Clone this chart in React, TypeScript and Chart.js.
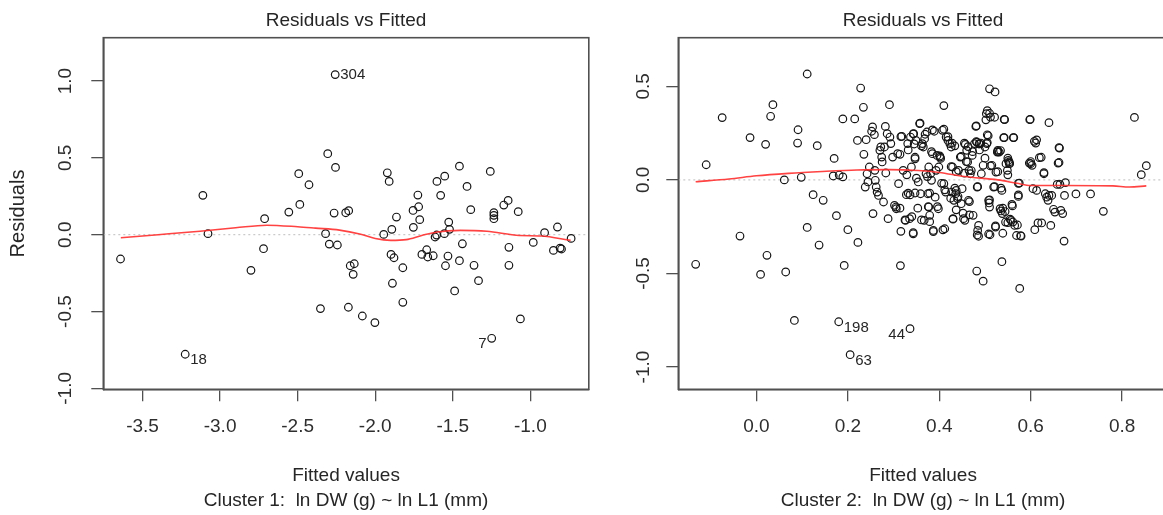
import React, { useEffect, useRef } from "react";
import { Chart, registerables } from "chart.js";
Chart.register(...registerables);

// ---------- Cluster 1 ----------
const fittedC1 = [
  -3.642, -3.225, -3.111, -3.078, -2.801, -2.72, -2.713, -2.557, -2.486, -2.493,
  -2.427, -2.353, -2.32, -2.306, -2.296, -2.258, -2.256, -2.265, -2.244, -2.19,
  -2.171, -2.173, -2.161, -2.135, -2.142, -2.083, -2.002, -1.945, -1.922, -1.91,
  -1.893, -1.898, -1.879, -1.889, -1.863, -1.822, -1.822, -1.754, -1.756, -1.725,
  -1.72, -1.713, -1.699, -1.668, -1.661, -1.626, -1.614, -1.604, -1.602, -1.578,
  -1.552, -1.554, -1.526, -1.521, -1.531, -1.547, -1.488, -1.457, -1.457, -1.438,
  -1.408, -1.384, -1.363, -1.334, -1.258, -1.249, -1.235, -1.235, -1.235, -1.171,
  -1.143, -1.138, -1.138, -1.078, -1.064, -0.981, -0.908, -0.851, -0.825, -0.808,
  -0.799, -0.737,
];
const residC1 = [
  -0.158, -0.778, 0.256, 0.007, -0.232, -0.091, 0.104, 0.147, 0.197, 0.397,
  0.325, -0.481, 0.007, 0.527, -0.061, 1.042, 0.438, 0.141, -0.067, 0.143,
  0.156, -0.472, -0.202, -0.189, -0.258, -0.529, -0.572, 0.002, 0.403, 0.347,
  0.035, -0.128, -0.15, -0.316, 0.115, -0.215, -0.44, 0.048, 0.158, 0.258,
  0.182, 0.098, -0.128, -0.098, -0.145, -0.137, -0.015, -0.002, 0.347, 0.256,
  0.381, 0.007, 0.082, 0.035, -0.139, -0.202, -0.366, -0.169, 0.446, -0.059,
  0.314, 0.163, -0.199, -0.299, 0.412, -0.674, 0.143, 0.126, 0.104, 0.193,
  0.223, -0.082, -0.199, 0.15, -0.548, -0.05, 0.013, -0.102, 0.05, -0.087,
  -0.093, -0.024,
];
const loessXC1 = [-3.64, -3.4, -3.13, -2.9, -2.7, -2.5, -2.385, -2.23, -2.1, -2.0, -1.9, -1.8, -1.7, -1.6, -1.45, -1.28, -1.07, -0.93, -0.74];
const loessYC1 = [-0.02, 0.0, 0.023, 0.045, 0.062, 0.052, 0.043, 0.03, 0.005, -0.025, -0.037, -0.032, -0.005, 0.018, 0.028, 0.022, -0.005, -0.008, -0.037];
const labelIdsC1 = ["304", "18", "7"];
const labelIndexC1 = [15, 1, 65];
const labelSideC1 = ["right", "right", "left"];
const xTicksC1 = [-3.5, -3.0, -2.5, -2.0, -1.5, -1.0];
const yTicksC1 = [-1.0, -0.5, 0.0, 0.5, 1.0];

// ---------- Cluster 2 ----------
const fittedC2 = [
  -0.133, -0.11, -0.075, -0.036, -0.014, 0.009, 0.02, 0.023, 0.031, 0.036,
  0.061, 0.064, 0.083, 0.09, 0.091, 0.098, 0.111, 0.111, 0.124, 0.133,
  0.137, 0.146, 0.17, 0.168, 0.175, 0.18, 0.181, 0.189, 0.189, 0.192,
  0.2, 0.205, 0.215, 0.221, 0.222, 0.228, 0.234, 0.336, 0.315, 0.291,
  0.41, 0.51, 0.522, 0.482, 0.496, 0.537, 0.576, 0.598, 0.64, 0.673,
  0.699, 0.731, 0.759, 0.827, 0.842, 0.853,
  0.235, 0.24, 0.238, 0.242, 0.244, 0.247, 0.252, 0.254, 0.255, 0.258,
  0.259, 0.26, 0.262, 0.264, 0.267, 0.27, 0.272, 0.274, 0.275, 0.278,
  0.28, 0.282, 0.283, 0.286, 0.288, 0.292, 0.294, 0.298, 0.302, 0.305,
  0.306, 0.309, 0.311, 0.316, 0.318, 0.321, 0.326, 0.328, 0.331, 0.335,
  0.337, 0.339, 0.343, 0.344, 0.347, 0.347, 0.349, 0.354, 0.357, 0.359,
  0.363, 0.365, 0.367, 0.368, 0.371, 0.373, 0.375, 0.377, 0.377, 0.379,
  0.381, 0.383, 0.385, 0.387, 0.389, 0.391, 0.393, 0.395, 0.398, 0.399,
  0.402, 0.403, 0.407, 0.41, 0.412, 0.414, 0.415, 0.419, 0.423, 0.426,
  0.427, 0.429, 0.43, 0.432, 0.436, 0.437, 0.44, 0.442, 0.446, 0.448,
  0.45, 0.453, 0.456, 0.457, 0.46, 0.462, 0.464, 0.465, 0.468, 0.472,
  0.474, 0.477, 0.48, 0.482, 0.483, 0.484, 0.486, 0.486, 0.488, 0.491,
  0.492, 0.496, 0.5, 0.503, 0.504, 0.507, 0.508, 0.509, 0.51, 0.511,
  0.512, 0.515, 0.519, 0.523, 0.524, 0.527, 0.528, 0.531, 0.533, 0.535,
  0.537, 0.538, 0.541, 0.543, 0.545, 0.546, 0.549, 0.551, 0.553, 0.554,
  0.557, 0.559, 0.561, 0.562, 0.565, 0.569, 0.573, 0.575, 0.579, 0.597,
  0.6, 0.603, 0.605, 0.608, 0.609, 0.611, 0.613, 0.616, 0.619, 0.624,
  0.629, 0.632, 0.635, 0.638, 0.64, 0.644, 0.646, 0.65, 0.653, 0.658,
  0.66, 0.663, 0.664, 0.666, 0.67, 0.674, 0.676,
  0.505, 0.51, 0.521, 0.542, 0.599, 0.358, 0.481, 0.502, 0.316, 0.343,
  0.369, 0.385, 0.41, 0.419, 0.428, 0.434, 0.455, 0.463, 0.481, 0.487,
  0.505, 0.505, 0.542, 0.563, 0.613, 0.662, 0.345, 0.361, 0.314, 0.332,
  0.347, 0.383, 0.401, 0.448, 0.459, 0.473, 0.488, 0.5, 0.528, 0.534,
  0.55, 0.553, 0.6, 0.623, 0.662, 0.629, 0.426, 0.437, 0.455, 0.47,
  0.512, 0.528, 0.55, 0.573, 0.329, 0.35, 0.374, 0.336, 0.379, 0.405,
  0.412, 0.434, 0.441, 0.466, 0.484, 0.51, 0.521, 0.535, 0.539, 0.544,
  0.56, 0.573, 0.555, 0.571, 0.578, 0.325, 0.34, 0.361, 0.379, 0.387,
  0.408, 0.43, 0.452, 0.466, 0.483, 0.508, 0.523, 0.539, 0.55, 0.314,
  0.332, 0.353, 0.376, 0.396, 0.425, 0.437, 0.343,
];
const residC2 = [
  -0.451, 0.081, 0.333, -0.3, 0.226, -0.505, 0.19, -0.403, 0.34, 0.402,
  0.0, -0.492, -0.751, 0.197, 0.268, 0.014, 0.566, -0.254, -0.079, 0.183,
  -0.348, -0.109, 0.115, 0.021, -0.191, -0.758, 0.026, 0.016, 0.326, -0.457,
  -0.266, -0.934, 0.326, 0.211, -0.334, 0.491, 0.388, -0.795, -0.458, 0.402,
  0.397, 0.487, 0.47, -0.487, -0.541, -0.437, -0.58, 0.322, 0.306, -0.327,
  -0.075, -0.075, -0.168, 0.334, 0.028, 0.076,
  0.137, 0.215, -0.038, 0.033, -0.011, 0.069, 0.26, 0.283, -0.18, 0.242,
  0.051, -0.002, -0.038, -0.065, -0.083, 0.158, 0.176, 0.122, 0.096, -0.118,
  0.176, 0.286, 0.037, 0.247, -0.207, 0.229, 0.194, 0.122, -0.136, -0.145,
  -0.154, 0.14, -0.02, -0.275, 0.233, 0.051, -0.216, -0.079, 0.194, -0.207,
  0.229, 0.069, -0.288, 0.247, 0.113, -0.07, 0.211, -0.011, 0.301, -0.074,
  0.194, 0.176, -0.216, 0.22, 0.033, 0.256, -0.074, -0.145, 0.069, -0.189,
  0.033, -0.002, 0.14, -0.27, 0.26, -0.092, 0.051, 0.131, -0.154, 0.069,
  0.122, 0.115, 0.265, -0.02, -0.261, -0.065, 0.229, 0.211, 0.194, 0.176,
  -0.065, 0.069, -0.207, -0.109, -0.074, -0.056, -0.1, 0.051, 0.122, -0.127,
  -0.047, -0.207, -0.216, 0.19, 0.158, 0.096, -0.109, 0.051, 0.033, 0.131,
  -0.189, 0.194, 0.286, 0.202, -0.038, -0.27, -0.243, -0.301, 0.194, 0.197,
  0.033, 0.078, 0.176, 0.354, 0.194, 0.236, -0.109, -0.123, -0.145, -0.293,
  0.336, 0.078, -0.038, -0.252, 0.042, 0.149, 0.158, 0.149, -0.154, -0.166,
  -0.056, -0.18, 0.226, 0.322, -0.225, 0.087, 0.051, 0.104, 0.096, 0.087,
  -0.216, -0.131, -0.225, 0.226, -0.243, -0.297, -0.088, -0.017, -0.3, 0.09,
  0.087, 0.078, -0.047, 0.206, -0.266, 0.197, -0.056, -0.23, 0.119, -0.23,
  0.033, -0.074, -0.092, -0.109, -0.083, -0.243, -0.083, -0.157, -0.172, -0.024,
  0.09, 0.17, -0.024, -0.163, -0.18, -0.083, -0.015,
  0.37, 0.356, 0.335, 0.324, 0.324, 0.303, 0.289, 0.321, 0.231, 0.246,
  0.244, 0.267, 0.271, 0.231, 0.196, 0.182, 0.196, 0.178, 0.205, 0.192,
  0.241, 0.2, 0.226, 0.226, 0.214, 0.173, 0.192, 0.182, 0.137, 0.16,
  0.121, 0.151, 0.128, 0.125, 0.098, 0.151, 0.16, 0.116, 0.151, 0.157,
  0.116, 0.089, 0.098, 0.121, 0.093, 0.039, 0.071, 0.044, 0.036, 0.05,
  0.075, 0.044, 0.027, -0.018, 0.027, 0.009, 0.018, -0.08, -0.071, -0.018,
  -0.053, -0.044, -0.089, -0.116, -0.036, -0.107, -0.036, -0.044, -0.151, -0.169,
  -0.139, -0.08, -0.21, -0.241, -0.298, -0.214, -0.196, -0.214, -0.223, -0.276,
  -0.267, -0.21, -0.178, -0.187, -0.294, -0.289, -0.246, -0.285, -0.228, -0.151,
  -0.071, -0.151, -0.143, -0.143, -0.098, -0.16, -0.282,
];
const loessXC2 = [-0.133, -0.06, 0.0, 0.07, 0.144, 0.22, 0.29, 0.354, 0.4, 0.455, 0.528, 0.57, 0.6, 0.673, 0.78, 0.816, 0.853];
const loessYC2 = [-0.01, 0.005, 0.022, 0.035, 0.045, 0.053, 0.055, 0.05, 0.04, 0.018, 0.0, -0.018, -0.03, -0.03, -0.032, -0.038, -0.032];
const labelIdsC2 = ["198", "63", "44"];
const labelIndexC2 = [25, 31, 37];
const labelSideC2 = ["right", "right", "left"];
const xTicksC2 = [0.0, 0.2, 0.4, 0.6, 0.8];
const yTicksC2 = [-1.0, -0.5, 0.0, 0.5];

const FONT = '"Liberation Sans", Arial, sans-serif';
Chart.defaults.font.family = FONT;

type PanelCfg = {
  fitted: number[];
  resid: number[];
  loessX: number[];
  loessY: number[];
  labelIds: string[];
  labelIndex: number[];
  labelSide: string[];
  xTicks: number[];
  yTicks: number[];
  xMin: number; xMax: number; yMin: number; yMax: number;
  yAxisWidth: number;
  yTickPad: number;
  padRight: number;
  yTitle: string | null;
  subTitle: string;
};

function makeChart(canvas: HTMLCanvasElement, p: PanelCfg) {
  const boxPlugin = {
    id: "rbox",
    beforeDatasetsDraw(chart: any) {
      const { ctx, chartArea: a, scales } = chart;
      const y0 = scales.y.getPixelForValue(0);
      ctx.save();
      ctx.strokeStyle = "#bdbdbd";
      ctx.lineWidth = 1;
      ctx.setLineDash([2, 3]);
      ctx.beginPath();
      ctx.moveTo(a.left, y0);
      ctx.lineTo(a.right, y0);
      ctx.stroke();
      ctx.restore();
    },
    afterDraw(chart: any) {
      const { ctx, chartArea: a, scales } = chart;
      ctx.save();
      ctx.strokeStyle = "#505050";
      ctx.lineWidth = 1.6;
      ctx.strokeRect(a.left, a.top, a.right - a.left, a.bottom - a.top);
      ctx.fillStyle = "#262626";
      ctx.textAlign = "center";
      ctx.textBaseline = "middle";
      const cx = (a.left + a.right) / 2;
      ctx.font = `19px ${FONT}`;
      ctx.fillText("Residuals vs Fitted", cx, 21);
      ctx.fillText("Fitted values", cx, 476);
      ctx.fillText(p.subTitle, cx, 501);
      if (p.yTitle) {
        ctx.save();
        ctx.translate(18, (a.top + a.bottom) / 2);
        ctx.rotate(-Math.PI / 2);
        ctx.font = `20px ${FONT}`;
        ctx.fillText(p.yTitle, 0, 0);
        ctx.restore();
      }
      ctx.font = `15px ${FONT}`;
      p.labelIds.forEach((id, k) => {
        const i = p.labelIndex[k];
        const px = scales.x.getPixelForValue(p.fitted[i]);
        const py = scales.y.getPixelForValue(p.resid[i]);
        const right = p.labelSide[k] === "right";
        ctx.textAlign = right ? "left" : "right";
        const dy = id === "304" ? 0 : 6;
        ctx.fillText(id, px + (right ? 5 : -5), py + dy);
      });
      ctx.restore();
    },
  };

  return new Chart(canvas, {
    type: "scatter",
    data: {
      datasets: [
        {
          type: "line",
          data: p.loessX.map((x, i) => ({ x, y: p.loessY[i] })),
          borderColor: "rgba(255,45,45,0.9)",
          borderWidth: 1.6,
          pointRadius: 0,
          cubicInterpolationMode: "monotone",
          fill: false,
        } as any,
        {
          data: p.fitted.map((x, i) => ({ x, y: p.resid[i] })),
          pointRadius: 3.8,
          pointBorderWidth: 1.2,
          borderColor: "#151515",
          backgroundColor: "rgba(0,0,0,0)",
          pointStyle: "circle",
        },
      ],
    },
    options: {
      responsive: false,
      animation: false,
      devicePixelRatio: 1,
      layout: { padding: { top: 37.7, right: p.padRight, left: 0, bottom: 0 } },
      plugins: { legend: { display: false }, tooltip: { enabled: false }, title: { display: false } },
      scales: {
        x: {
          type: "linear",
          min: p.xMin,
          max: p.xMax,
          afterFit: (s: any) => { s.height = 515 - 389.3; },
          afterBuildTicks: (s: any) => { s.ticks = p.xTicks.map((v) => ({ value: v })); },
          grid: { drawOnChartArea: false, drawTicks: true, tickLength: 12, color: "#505050", lineWidth: 1.3 },
          border: { display: true, color: "#505050", width: 1.6 },
          ticks: {
            padding: 14,
            color: "#2e2e2e",
            font: { size: 19 },
            maxRotation: 0,
            minRotation: 0,
            autoSkip: false,
            callback: (v: any) => Number(v).toFixed(1),
          },
        },
        y: {
          type: "linear",
          min: p.yMin,
          max: p.yMax,
          afterFit: (s: any) => { s.width = p.yAxisWidth; },
          afterBuildTicks: (s: any) => { s.ticks = p.yTicks.map((v) => ({ value: v })); },
          grid: { drawOnChartArea: false, drawTicks: true, tickLength: 12, color: "#505050", lineWidth: 1.3 },
          border: { display: true, color: "#505050", width: 1.6 },
          ticks: {
            padding: p.yTickPad,
            color: "#2e2e2e",
            font: { size: 19 },
            minRotation: 90,
            maxRotation: 90,
            crossAlign: "center",
            autoSkip: false,
            callback: (v: any) => Number(v).toFixed(1),
          },
        },
      },
    },
    plugins: [boxPlugin],
  } as any);
}

export default function App() {
  const leftRef = useRef<HTMLCanvasElement>(null);
  const rightRef = useRef<HTMLCanvasElement>(null);

  useEffect(() => {
    const c1 = makeChart(leftRef.current!, {
      fitted: fittedC1, resid: residC1, loessX: loessXC1, loessY: loessYC1,
      labelIds: labelIdsC1, labelIndex: labelIndexC1, labelSide: labelSideC1,
      xTicks: xTicksC1, yTicks: yTicksC1,
      xMin: -3.753, xMax: -0.623, yMin: -1.006, yMax: 1.282,
      yAxisWidth: 103.3, yTickPad: 9, padRight: 1.7,
      yTitle: "Residuals",
      subTitle: "Cluster 1:  ln DW (g) ~ ln L1 (mm)",
    });
    const c2 = makeChart(rightRef.current!, {
      fitted: fittedC2, resid: residC2, loessX: loessXC2, loessY: loessYC2,
      labelIds: labelIdsC2, labelIndex: labelIndexC2, labelSide: labelSideC2,
      xTicks: xTicksC2, yTicks: yTicksC2,
      xMin: -0.171, xMax: 0.9, yMin: -1.119, yMax: 0.76,
      yAxisWidth: 85.3, yTickPad: 6, padRight: 1.6,
      yTitle: null,
      subTitle: "Cluster 2:  ln DW (g) ~ ln L1 (mm)",
    });
    return () => { c1.destroy(); c2.destroy(); };
  }, []);

  return (
    <div style={{ position: "fixed", left: 0, top: 0, width: 1163, height: 515, overflow: "hidden", background: "#fff" }}>
      <canvas ref={leftRef} width={594} height={515} style={{ position: "absolute", left: 0, top: 0, width: 594, height: 515 }} />
      <canvas ref={rightRef} width={580} height={515} style={{ position: "absolute", left: 593, top: 0, width: 580, height: 515 }} />
    </div>
  );
}
